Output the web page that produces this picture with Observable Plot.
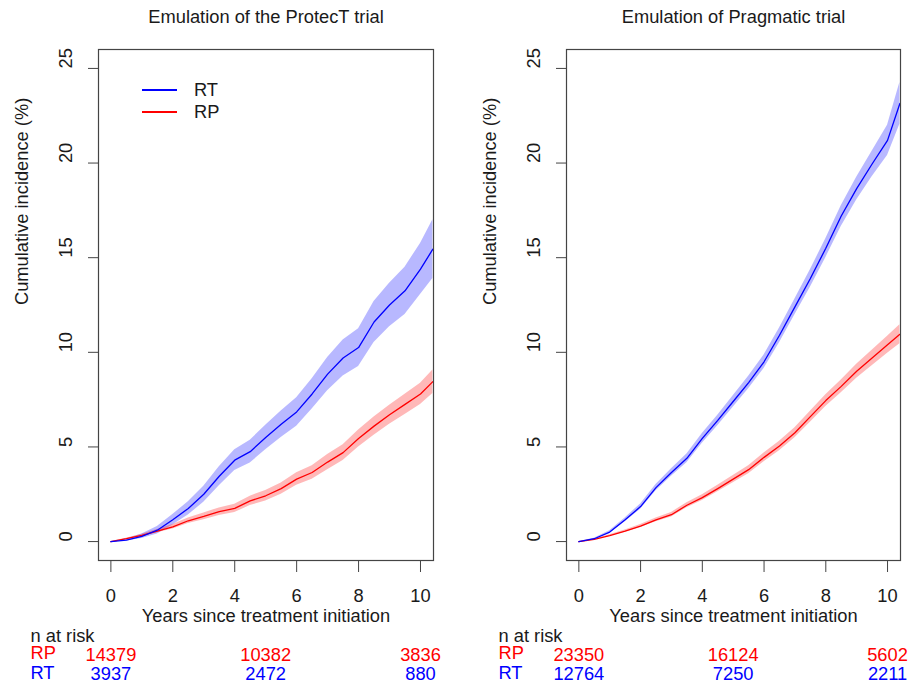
<!DOCTYPE html>
<html><head><meta charset="utf-8">
<script src="https://cdn.jsdelivr.net/npm/d3@7"></script>
<script src="https://cdn.jsdelivr.net/npm/@observablehq/plot@0.6"></script>
<style>
body{margin:0;background:#fff;}
#wrap{position:relative;width:911px;height:685px;display:flex;background:#fff;}
#legend{position:absolute;left:0;top:0;}
</style></head><body><div id="wrap"></div>
<script>
// ---- data ----
const years = [0,0.5,1,1.5,2,2.5,3,3.5,4,4.5,5,5.5,6,6.5,7,7.5,8,8.5,9,9.5,10,10.4];

const protectRT    = [0,0.08,0.28,0.6,1.15,1.75,2.5,3.45,4.3,4.75,5.5,6.2,6.85,7.8,8.85,9.7,10.25,11.6,12.5,13.25,14.4,15.45];
const protectRTlo  = [0,0.03,0.16,0.4,0.87,1.4,2.08,2.95,3.75,4.15,4.85,5.5,6.1,7.0,7.97,8.75,9.25,10.52,11.35,12.0,13.05,13.9];
const protectRThi  = [0,0.13,0.4,0.8,1.43,2.1,2.92,3.95,4.85,5.35,6.15,6.9,7.6,8.6,9.73,10.65,11.25,12.68,13.65,14.5,15.75,17.0];
const protectRP    = [0,0.15,0.33,0.55,0.78,1.1,1.33,1.58,1.75,2.15,2.42,2.8,3.3,3.65,4.2,4.7,5.45,6.1,6.7,7.25,7.8,8.45];
const protectRPlo  = [0,0.12,0.27,0.46,0.66,0.95,1.15,1.38,1.53,1.9,2.14,2.5,2.97,3.29,3.8,4.28,5.0,5.62,6.2,6.72,7.24,7.83];
const protectRPhi  = [0,0.18,0.39,0.64,0.9,1.25,1.51,1.78,1.97,2.4,2.7,3.1,3.63,4.01,4.6,5.12,5.9,6.58,7.2,7.78,8.36,9.07];

const pragRT   = [0,0.15,0.5,1.15,1.85,2.85,3.65,4.4,5.45,6.4,7.4,8.4,9.5,10.9,12.4,13.9,15.5,17.2,18.65,19.95,21.2,23.15];
const pragRTlo = [0,0.12,0.43,1.05,1.71,2.68,3.45,4.17,5.19,6.12,7.1,8.07,9.14,10.51,11.98,13.44,15.0,16.65,18.05,19.27,20.4,22.05];
const pragRThi = [0,0.18,0.57,1.25,1.99,3.02,3.85,4.63,5.71,6.68,7.7,8.73,9.86,11.29,12.82,14.36,16.0,17.75,19.25,20.63,22.0,24.25];
const pragRP   = [0,0.12,0.32,0.55,0.82,1.15,1.42,1.92,2.32,2.8,3.3,3.8,4.45,5.05,5.75,6.6,7.45,8.2,9.0,9.7,10.4,10.95];
const pragRPlo = [0,0.1,0.28,0.49,0.74,1.05,1.3,1.79,2.17,2.63,3.11,3.59,4.22,4.8,5.48,6.31,7.14,7.86,8.63,9.29,9.95,10.45];
const pragRPhi = [0,0.14,0.36,0.61,0.9,1.25,1.54,2.05,2.47,2.97,3.49,4.01,4.68,5.3,6.02,6.89,7.76,8.54,9.37,10.11,10.85,11.45];

const riskYears = [0,5,10];
const protectRiskRP = [14379,10382,3836];
const protectRiskRT = [3937,2472,880];
const pragRiskRP = [23350,16124,5602];
const pragRiskRT = [12764,7250,2211];

const xTicks = [0,2,4,6,8,10];
const yTicks = [0,5,10,15,20,25];
const titles = ["Emulation of the ProtecT trial","Emulation of Pragmatic trial"];
const xLabel = "Years since treatment initiation";
const yLabel = "Cumulative incidence (%)";
const riskLabel = "n at risk";
const legendLabels = ["RT","RP"];
const colRT = "#0000ff", colRP = "#ff0000";

// ---- drawing ----
const FONT = "'Liberation Sans', Arial, sans-serif";
function rowsOf(est, lo, hi){ return years.map((t,i)=>({t, est:est[i], lo:lo[i], hi:hi[i]})); }
function riskOf(n){ return riskYears.map((t,i)=>({t, n:n[i]})); }

function panel(o){
  const rt = rowsOf(o.rt, o.rtlo, o.rthi), rp = rowsOf(o.rp, o.rplo, o.rphi);
  const mid = {lineAnchor: "middle"};
  return Plot.plot({
    width: o.width, height: 685,
    marginTop: 49, marginBottom: 125, marginLeft: o.ml, marginRight: o.mr,
    style: {fontFamily: FONT, fontSize: "18.3px", color: "#1a1a1a", background: "transparent", overflow: "visible"},
    x: {domain: [-0.4, 10.42]},
    y: {domain: [-1, 26]},
    marks: [
      Plot.areaY(rt, {x:"t", y1:"lo", y2:"hi", fill: colRT, fillOpacity: 0.28}),
      Plot.areaY(rp, {x:"t", y1:"lo", y2:"hi", fill: colRP, fillOpacity: 0.28}),
      Plot.lineY(rp, {x:"t", y:"est", stroke: colRP, strokeWidth: 1.3}),
      Plot.lineY(rt, {x:"t", y:"est", stroke: colRT, strokeWidth: 1.3}),
      Plot.frame({stroke: "#444", strokeWidth: 1.2}),
      Plot.axisX({ticks: xTicks, tickSize: 12, tickPadding: 16, label: null, stroke: "#444"}),
      Plot.axisY({ticks: yTicks, tickSize: 10, label: null, stroke: "#444", fill: "none"}),
      Plot.text(yTicks, {y: d => d, text: d => String(d), frameAnchor: "left", rotate: -90, dx: -32.3, ...mid}),
      Plot.text([o.title], {frameAnchor: "top", dy: -32.5, ...mid}),
      Plot.text([xLabel], {frameAnchor: "bottom", dy: 56, ...mid}),
      Plot.text([yLabel], {frameAnchor: "left", rotate: -90, dx: -76, ...mid}),
      Plot.text([riskLabel], {frameAnchor: "bottom-left", textAnchor: "start", dx: -68, dy: 76, ...mid}),
      Plot.text([legendLabels[1]], {frameAnchor: "bottom-left", textAnchor: "start", dx: -68, dy: 92.5, fill: colRP, ...mid}),
      Plot.text([legendLabels[0]], {frameAnchor: "bottom-left", textAnchor: "start", dx: -68, dy: 112.5, fill: colRT, ...mid}),
      Plot.text(riskOf(o.riskRP), {x: "t", text: d => String(d.n), frameAnchor: "bottom", dy: 95, fill: colRP, ...mid}),
      Plot.text(riskOf(o.riskRT), {x: "t", text: d => String(d.n), frameAnchor: "bottom", dy: 114, fill: colRT, ...mid})
    ]
  });
}

const wrap = document.getElementById("wrap");
wrap.appendChild(panel({title: titles[0], width: 455, ml: 98, mr: 22,
  rt: protectRT, rtlo: protectRTlo, rthi: protectRThi, rp: protectRP, rplo: protectRPlo, rphi: protectRPhi,
  riskRP: protectRiskRP, riskRT: protectRiskRT}));
wrap.appendChild(panel({title: titles[1], width: 456, ml: 111, mr: 11,
  rt: pragRT, rtlo: pragRTlo, rthi: pragRThi, rp: pragRP, rplo: pragRPlo, rphi: pragRPhi,
  riskRP: pragRiskRP, riskRT: pragRiskRT}));

// legend (top-left of the first panel)
const ns = "http://www.w3.org/2000/svg";
const leg = document.createElementNS(ns, "svg");
leg.setAttribute("id","legend"); leg.setAttribute("width", 260); leg.setAttribute("height", 130);
[[legendLabels[0], colRT], [legendLabels[1], colRP]].forEach(([lab, col], i) => {
  const y = 90 + i * 22;
  const l = document.createElementNS(ns, "line");
  l.setAttribute("x1", 142); l.setAttribute("x2", 177); l.setAttribute("y1", y); l.setAttribute("y2", y);
  l.setAttribute("stroke", col); l.setAttribute("stroke-width", 2);
  leg.appendChild(l);
  const t = document.createElementNS(ns, "text");
  t.setAttribute("x", 194); t.setAttribute("y", y); t.setAttribute("dy", "0.35em");
  t.setAttribute("font-family", FONT); t.setAttribute("font-size", 18.3);
  t.setAttribute("fill", "#1a1a1a");
  t.textContent = lab;
  leg.appendChild(t);
});
wrap.appendChild(leg);
</script></body></html>
